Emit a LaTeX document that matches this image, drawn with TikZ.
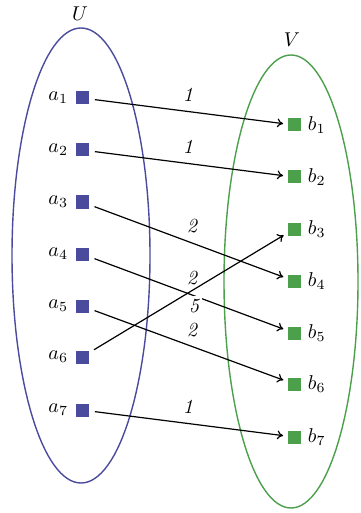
\documentclass[tikz,border=0pt]{standalone}
\usetikzlibrary{arrows.meta}
\definecolor{ublue}{RGB}{75,75,158}
\definecolor{vgreen}{RGB}{76,160,76}
\begin{document}
\begin{tikzpicture}[x=0.5pt,y=-0.5pt,
  usq/.style={fill=ublue,draw=none,minimum size=6.5pt,inner sep=0pt,label distance=1pt},
  vsq/.style={fill=vgreen,draw=none,minimum size=6.5pt,inner sep=0pt,label distance=1pt},
  edge/.style={-{To[length=3pt,width=4.5pt]},line width=0.6pt,shorten <=3pt,shorten >=2pt},
  wt/.style={font=\itshape,inner sep=1.5pt,fill=white}]
\useasboundingbox (0,0) rectangle (360,513);
\draw[ublue,line width=0.7pt] (81,255.5) ellipse [x radius=69,y radius=227.5];
\draw[vgreen,line width=0.7pt] (291,281.5) ellipse [x radius=67,y radius=226.5];
\node (U) at (80,14) {$U$};
\node (V) at (292,40) {$V$};
\foreach \i/\y in {1/98,2/150,3/202,4/254,5/306,6/357,7/410}
  \node[usq,label=left:{$a_{\i}$}] (a\i) at (82,\y) {};
\foreach \i/\y in {1/125,2/177,3/229,4/281,5/333,6/384,7/437}
  \node[vsq,label=right:{$b_{\i}$}] (b\i) at (294,\y) {};
\draw[edge] (a1) -- node[wt,above=3pt,pos=0.5] {1} (b1);
\draw[edge] (a2) -- node[wt,above=3pt,pos=0.5] {1} (b2);
\draw[edge] (a3) -- node[wt,above=3pt,pos=0.52] {2} (b4);
\draw[edge] (a4) -- node[wt,above=3pt,pos=0.52] {2} (b5);
\draw[edge] (a5) -- node[wt,above=3pt,pos=0.52] {2} (b6);
\draw[edge] (a6) -- node[wt,below=3pt,pos=0.53] {5} (b3);
\draw[edge] (a7) -- node[wt,above=3pt,pos=0.5] {1} (b7);
\end{tikzpicture}
\end{document}
